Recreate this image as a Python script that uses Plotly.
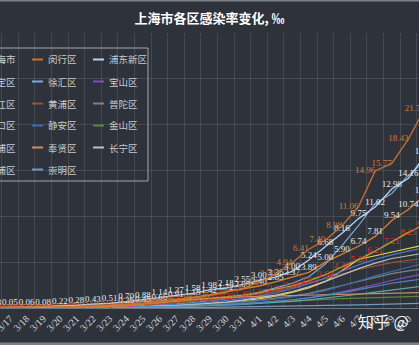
import plotly.graph_objects as go

# ---------------- data ----------------
dates = ["3/16", "3/17", "3/18", "3/19", "3/20", "3/21", "3/22", "3/23", "3/24", "3/25",
         "3/26", "3/27", "3/28", "3/29", "3/30", "3/31", "4/1", "4/2", "4/3", "4/4",
         "4/5", "4/6", "4/7", "4/8", "4/9", "4/10", "4/11"]

shanghai = [0.01, 0.02, 0.03, 0.04, 0.06, 0.09, 0.12, 0.18, 0.26, 0.45, 0.66, 0.91, 1.15, 1.42,
            1.72, 2.05, 2.40, 2.85, 3.37, 3.89, 5.00, 5.90, 6.74, 7.81, 9.54, 10.74, 12.30]
minhang = [0.02, 0.04, 0.05, 0.07, 0.12, 0.17, 0.24, 0.31, 0.40, 0.52, 0.68, 0.86, 1.08, 1.35,
           1.70, 2.15, 2.80, 3.70, 4.94, 6.41, 7.40, 8.98, 11.06, 14.96, 15.77, 18.43, 21.77]
pudong = [0.03, 0.05, 0.06, 0.08, 0.22, 0.28, 0.43, 0.51, 0.70, 0.88, 1.14, 1.37, 1.58, 1.98,
          2.18, 2.55, 3.00, 3.36, 4.00, 5.24, 6.68, 8.16, 9.75, 11.02, 12.98, 14.16, 16.60]
jiading = [0.02, 0.04, 0.05, 0.07, 0.10, 0.14, 0.19, 0.25, 0.32, 0.42, 0.55, 0.70, 0.85, 1.00,
           1.20, 1.40, 1.65, 2.05, 2.41, 2.95, 3.63, 4.48, 5.28, 6.21, 7.21, 8.25, 9.10]
xuhui = [0.01, 0.02, 0.03, 0.04, 0.05, 0.07, 0.10, 0.14, 0.19, 0.26, 0.35, 0.46, 0.60, 0.78,
         1.00, 1.30, 1.70, 2.20, 2.70, 3.40, 4.80, 6.80, 9.00, 11.40, 12.50, 14.50, 16.00]
baoshan = [0.00, 0.01, 0.01, 0.01, 0.02, 0.03, 0.04, 0.05, 0.07, 0.09, 0.12, 0.16, 0.21, 0.27,
           0.35, 0.45, 0.57, 0.72, 0.90, 1.12, 1.40, 1.75, 2.15, 2.60, 3.00, 3.40, 3.75]
songjiang = [0.00, 0.01, 0.01, 0.02, 0.03, 0.04, 0.06, 0.08, 0.11, 0.15, 0.20, 0.27, 0.36, 0.47,
             0.60, 0.78, 1.00, 1.30, 1.70, 2.20, 2.90, 4.10, 5.30, 5.70, 6.10, 6.50, 6.90]
huangpu = [0.02, 0.03, 0.05, 0.07, 0.09, 0.12, 0.16, 0.21, 0.27, 0.35, 0.44, 0.55, 0.68, 0.84,
           1.02, 1.25, 1.52, 1.85, 2.25, 2.70, 3.20, 3.70, 4.20, 4.60, 4.95, 5.20, 5.40]
putuo = [0.01, 0.01, 0.02, 0.03, 0.04, 0.05, 0.07, 0.09, 0.12, 0.16, 0.21, 0.27, 0.35, 0.44,
         0.55, 0.69, 0.86, 1.06, 1.30, 1.60, 2.00, 2.45, 2.90, 3.35, 3.75, 4.05, 4.30]
hongkou = [0.01, 0.02, 0.03, 0.04, 0.05, 0.07, 0.09, 0.12, 0.16, 0.21, 0.28, 0.37, 0.48, 0.62,
           0.80, 1.02, 1.30, 1.65, 2.10, 2.65, 3.30, 4.00, 4.70, 5.30, 5.80, 6.20, 6.60]
jingan = [0.00, 0.01, 0.01, 0.02, 0.03, 0.04, 0.05, 0.07, 0.10, 0.13, 0.17, 0.22, 0.29, 0.37,
          0.47, 0.60, 0.76, 0.96, 1.20, 1.50, 1.90, 2.40, 2.95, 3.50, 4.00, 4.45, 4.90]
jinshan = [0.01, 0.01, 0.02, 0.02, 0.03, 0.04, 0.05, 0.07, 0.09, 0.12, 0.15, 0.20, 0.26, 0.33,
           0.42, 0.52, 0.62, 0.72, 0.82, 0.90, 0.97, 1.03, 1.08, 1.13, 1.18, 1.23, 1.28]
qingpu = [0.01, 0.01, 0.02, 0.02, 0.03, 0.04, 0.05, 0.06, 0.08, 0.10, 0.13, 0.16, 0.20, 0.25,
          0.31, 0.38, 0.47, 0.58, 0.72, 0.88, 1.06, 1.27, 1.50, 1.74, 1.98, 2.20, 2.40]
fengxian = [0.05, 0.08, 0.12, 0.18, 0.25, 0.33, 0.42, 0.52, 0.62, 0.72, 0.82, 0.92, 1.00, 1.08,
            1.15, 1.22, 1.28, 1.33, 1.38, 1.42, 1.46, 1.50, 1.54, 1.58, 1.62, 1.66, 1.70]
changning = [0.01, 0.01, 0.02, 0.03, 0.04, 0.05, 0.07, 0.10, 0.13, 0.17, 0.22, 0.29, 0.38, 0.50,
             0.65, 0.85, 1.10, 1.40, 1.80, 2.30, 2.90, 3.60, 4.30, 4.90, 5.40, 5.70, 6.00]
yangpu = [0.00, 0.01, 0.01, 0.02, 0.02, 0.03, 0.04, 0.06, 0.08, 0.10, 0.13, 0.17, 0.22, 0.28,
          0.36, 0.46, 0.58, 0.72, 0.90, 1.10, 1.35, 1.65, 2.00, 2.35, 2.70, 2.95, 3.20]
chongming = [0.00, 0.00, 0.00, 0.01, 0.01, 0.01, 0.02, 0.02, 0.03, 0.03, 0.04, 0.05, 0.06, 0.07,
             0.09, 0.11, 0.13, 0.16, 0.19, 0.23, 0.27, 0.31, 0.35, 0.40, 0.44, 0.48, 0.52]

# legend order (row-major, 3 columns)
legend_names = ["上海市", "闵行区", "浦东新区", "嘉定区", "徐汇区", "宝山区",
                "松江区", "黄浦区", "普陀区", "虹口区", "静安区", "金山区",
                "青浦区", "奉贤区", "长宁区", "杨浦区", "崇明区"]

series = {
    "上海市": shanghai, "闵行区": minhang, "浦东新区": pudong, "嘉定区": jiading,
    "徐汇区": xuhui, "宝山区": baoshan, "松江区": songjiang, "黄浦区": huangpu,
    "普陀区": putuo, "虹口区": hongkou, "静安区": jingan, "金山区": jinshan,
    "青浦区": qingpu, "奉贤区": fengxian, "长宁区": changning, "杨浦区": yangpu,
    "崇明区": chongming,
}

colors = {
    "上海市": "#d9812f", "闵行区": "#c8702f", "浦东新区": "#b9d3ec", "嘉定区": "#b3aa30",
    "徐汇区": "#79a9d9", "宝山区": "#7b4fc4", "松江区": "#e2d348", "黄浦区": "#9a5232",
    "普陀区": "#7e8286", "虹口区": "#4a78c8", "静安区": "#3d6aa8", "金山区": "#5d8a3a",
    "青浦区": "#5fa8a0", "奉贤区": "#c98f68", "长宁区": "#bcc0c4", "杨浦区": "#5088c0",
    "崇明区": "#6f9cc4",
}

# labelled series: (text colour, text position, first date index that shows a label)
labelled = {
    "嘉定区": ("#e8302a", "middle center", 0),
    "上海市": ("#ececec", "top center", 8),
    "浦东新区": ("#ececec", "top center", 0),
    "闵行区": ("#d27a3a", "middle left", 0),
}

title_text = "上海市各区感染率变化, ‰"

# ---------------- figure ----------------
W, H = 419, 345
T, B = 33, 37
PH = H - T - B
xs = list(range(-1, len(dates) - 1))  # 3/16 -> -1, 3/17 -> 0

fig = go.Figure()

draw_order = [n for n in legend_names if n not in labelled] + list(labelled.keys())
for name in draw_order:
    vals = series[name]
    if name in labelled:
        tc, tp, first = labelled[name]
        fig.add_trace(go.Scatter(
            x=xs, y=vals, mode="lines+text", name=name,
            text=[f"{v:.2f}" if i >= first else "" for i, v in enumerate(vals)],
            textposition=tp,
            textfont=dict(family="Liberation Serif", size=9, color=tc),
            line=dict(color=colors[name], width=1.3), showlegend=False,
        ))
    else:
        fig.add_trace(go.Scatter(
            x=xs, y=vals, mode="lines", name=name,
            line=dict(color=colors[name], width=1.2), showlegend=False,
        ))


def px_x(p):
    return p / W


def px_y(p):
    return (H - B - p) / PH


shapes = []
annotations = []

# legend box
shapes.append(dict(type="rect", xref="paper", yref="paper",
                   x0=px_x(-120), x1=px_x(148), y0=px_y(181), y1=px_y(48),
                   line=dict(color="#a3a6ab", width=1), fillcolor="rgba(0,0,0,0)", layer="above"))
for k, name in enumerate(legend_names):
    row, col = divmod(k, 3)
    cy = 59.5 + 22 * row
    ix = -29 + 61 * col
    shapes.append(dict(type="line", xref="paper", yref="paper",
                       x0=px_x(ix), x1=px_x(ix + 11), y0=px_y(cy), y1=px_y(cy),
                       line=dict(color=colors[name], width=2), layer="above"))
    annotations.append(dict(text=name, xref="paper", yref="paper",
                            x=px_x(ix + 14), y=px_y(cy), xanchor="left", yanchor="middle",
                            showarrow=False,
                            font=dict(family="Noto Sans CJK SC", size=9.5, color="#c9cbce")))

# frame lines at the top and bottom edges
shapes.append(dict(type="line", xref="paper", yref="paper", x0=0, x1=1,
                   y0=px_y(0.5), y1=px_y(0.5), line=dict(color="#7d8187", width=2)))
shapes.append(dict(type="line", xref="paper", yref="paper", x0=0, x1=1,
                   y0=px_y(344), y1=px_y(344), line=dict(color="#7d8187", width=3)))

# watermark
annotations.append(dict(text="知乎 @", xref="paper", yref="paper",
                        x=px_x(356), y=px_y(321), xanchor="left", yanchor="middle",
                        showarrow=False,
                        font=dict(family="Noto Sans CJK SC", size=16, color="rgba(255,255,255,0.95)")))

fig.update_layout(
    width=W, height=H, autosize=False,
    margin=dict(l=0, r=0, t=T, b=B, autoexpand=False),
    paper_bgcolor="#2e323b", plot_bgcolor="#2e323b",
    title=dict(text=f"<b>{title_text}</b>", x=0.5, xanchor="center",
               y=1 - 18 / H, yanchor="middle",
               font=dict(family="Noto Sans CJK SC", size=13, color="#ffffff")),
    shapes=shapes, annotations=annotations,
    showlegend=False,
)

fig.update_xaxes(
    range=[-0.6, 24.64],
    tickmode="array", tickvals=xs, ticktext=dates, tickangle=-45,
    ticklabeloverflow="allow",
    tickfont=dict(family="Liberation Serif", size=10, color="#d8dadd"),
    showgrid=False, zeroline=False, showline=True, linecolor="#70747a", ticks="",
    minor=dict(tickmode="array", tickvals=[i + 0.5 for i in range(-2, 26)],
               showgrid=True, gridcolor="rgba(255,255,255,0.11)", gridwidth=1, ticks=""),
)
fig.update_yaxes(
    range=[0, 30], dtick=5, showgrid=True, gridcolor="rgba(255,255,255,0.11)",
    zeroline=False, showticklabels=False, showline=False,
)

fig.write_html("out.html")
